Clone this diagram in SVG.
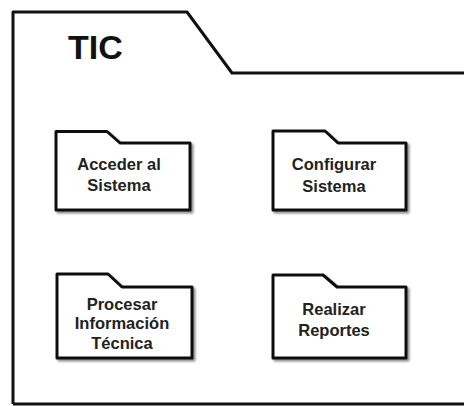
<svg xmlns="http://www.w3.org/2000/svg" width="464" height="406" viewBox="0 0 464 406">
  <defs>
    <filter id="sh" x="-10%" y="-10%" width="130%" height="130%">
      <feDropShadow dx="2" dy="2" stdDeviation="1" flood-color="#000" flood-opacity="0.45"/>
    </filter>
  </defs>
  <style>
    .frame { fill: #fff; stroke: #111; stroke-width: 3; stroke-linejoin: round; }
    .pkg { fill: #fff; stroke: #111; stroke-width: 3; stroke-linejoin: round; filter: url(#sh); }
    .lbl { font-family: "Liberation Sans", Arial, sans-serif; font-weight: bold; font-size: 16.5px; fill: #222; text-anchor: middle; }
    .title { font-family: "Liberation Sans", Arial, sans-serif; font-weight: bold; font-size: 34px; fill: #111; }
  </style>
  <rect width="464" height="406" fill="#fff"/>
  <g id="TIC">
    <path class="frame" d="M13,404 L13,12 L187,12 L232,73 L466,73 M13,404 L466,404"/>
    <text class="title" x="68" y="59">TIC</text>
  </g>
  <g id="acceder">
    <path class="pkg" d="M56,210 L56,131.5 L107,131.5 L120,143 L190,143 L190,210 Z"/>
    <text class="lbl" x="119" y="170">Acceder al</text>
    <text class="lbl" x="119" y="191">Sistema</text>
  </g>
  <g id="configurar">
    <path class="pkg" d="M273,210 L273,131 L325,131 L338,143 L406,143 L406,210 Z"/>
    <text class="lbl" x="334" y="170">Configurar</text>
    <text class="lbl" x="334" y="192">Sistema</text>
  </g>
  <g id="procesar">
    <path class="pkg" d="M57,358 L57,274 L108,274 L122,287 L192,287 L192,358 Z"/>
    <text class="lbl" x="122" y="310">Procesar</text>
    <text class="lbl" x="122" y="329">Información</text>
    <text class="lbl" x="122" y="349">Técnica</text>
  </g>
  <g id="reportes">
    <path class="pkg" d="M273,358 L273,275 L323,275 L337,287 L406,287 L406,358 Z"/>
    <text class="lbl" x="334" y="315">Realizar</text>
    <text class="lbl" x="334" y="336">Reportes</text>
  </g>
  <g id="connectors"></g>
</svg>
